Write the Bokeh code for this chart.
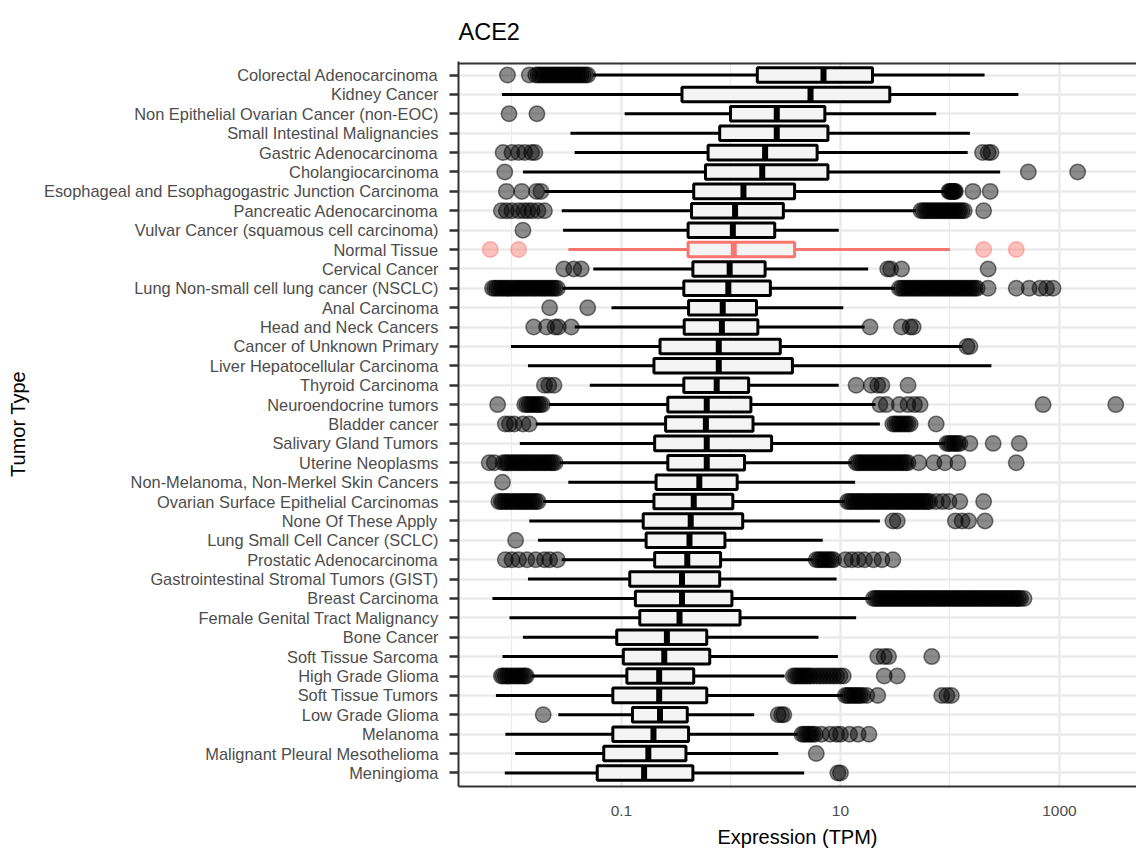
from bokeh.plotting import figure
from bokeh.models import ColumnDataSource, FactorRange, Range1d, FixedTicker, Span
from bokeh.transform import dodge
from bokeh.embed import file_html
from bokeh.resources import INLINE

title_text = "ACE2"
x_title = "Expression (TPM)"
y_title = "Tumor Type"

categories = [
    "Colorectal Adenocarcinoma",
    "Kidney Cancer",
    "Non Epithelial Ovarian Cancer (non-EOC)",
    "Small Intestinal Malignancies",
    "Gastric Adenocarcinoma",
    "Cholangiocarcinoma",
    "Esophageal and Esophagogastric Junction Carcinoma",
    "Pancreatic Adenocarcinoma",
    "Vulvar Cancer (squamous cell carcinoma)",
    "Normal Tissue",
    "Cervical Cancer",
    "Lung Non-small cell lung cancer (NSCLC)",
    "Anal Carcinoma",
    "Head and Neck Cancers",
    "Cancer of Unknown Primary",
    "Liver Hepatocellular Carcinoma",
    "Thyroid Carcinoma",
    "Neuroendocrine tumors",
    "Bladder cancer",
    "Salivary Gland Tumors",
    "Uterine Neoplasms",
    "Non-Melanoma, Non-Merkel Skin Cancers",
    "Ovarian Surface Epithelial Carcinomas",
    "None Of These Apply",
    "Lung Small Cell Cancer (SCLC)",
    "Prostatic Adenocarcinoma",
    "Gastrointestinal Stromal Tumors (GIST)",
    "Breast Carcinoma",
    "Female Genital Tract Malignancy",
    "Bone Cancer",
    "Soft Tissue Sarcoma",
    "High Grade Glioma",
    "Soft Tissue Tumors",
    "Low Grade Glioma",
    "Melanoma",
    "Malignant Pleural Mesothelioma",
    "Meningioma",
]

lower = [0.055, 0.0081, 0.107, 0.0342, 0.0374, 0.0126, 0.0198, 0.0285, 0.0293, 0.0327,
         0.0553, 0.029, 0.0811, 0.0374, 0.0098, 0.014, 0.0514, 0.0217, 0.0165, 0.0118,
         0.0272, 0.0327, 0.0194, 0.0144, 0.0173, 0.0285, 0.014, 0.00664, 0.0095, 0.0126,
         0.0082, 0.0151, 0.00714, 0.0265, 0.0087, 0.0107, 0.0086]
q1 = [1.74, 0.357, 0.99, 0.789, 0.618, 0.585, 0.457, 0.436, 0.406, 0.406,
      0.449, 0.371, 0.41, 0.374, 0.225, 0.198, 0.371, 0.265, 0.253, 0.201,
      0.265, 0.207, 0.198, 0.158, 0.168, 0.201, 0.119, 0.134, 0.147, 0.0905,
      0.104, 0.112, 0.0834, 0.126, 0.0834, 0.0689, 0.0601]
median = [7.0, 5.33, 2.62, 2.62, 2.05, 1.93, 1.30, 1.09, 1.04, 1.06,
          0.973, 0.946, 0.841, 0.826, 0.774, 0.774, 0.741, 0.601, 0.59, 0.601,
          0.601, 0.514, 0.457, 0.429, 0.418, 0.399, 0.357, 0.357, 0.339, 0.26,
          0.246, 0.221, 0.221, 0.225, 0.196, 0.176, 0.161]
q3 = [19.6, 28.2, 7.2, 7.68, 6.12, 7.68, 3.81, 3.01, 2.51, 3.81,
      2.05, 2.29, 1.71, 1.76, 2.82, 3.64, 1.45, 1.52, 1.59, 2.35,
      1.33, 1.14, 1.04, 1.28, 0.881, 0.804, 0.789, 1.02, 1.21, 0.601,
      0.64, 0.457, 0.601, 0.399, 0.41, 0.388, 0.449]
upper = [207, 421, 74.8, 152, 145, 287, 93.8, 48.7, 9.64, 100,
         17.9, 31.5, 10.6, 16.6, 129, 239, 9.64, 20.9, 22.9, 89.7,
         12.7, 13.6, 10.9, 22.9, 6.89, 5.58, 9.21, 19.1, 13.9, 6.29,
         9.47, 3.09, 10.6, 1.63, 4.06, 2.7, 4.66]

outliers = [
    # Colorectal Adenocarcinoma
    [0.0091, 0.0144, 0.0165, 0.0173, 0.0181, 0.019, 0.0198, 0.0207, 0.0217, 0.0227,
     0.0237, 0.0248, 0.026, 0.0272, 0.0285, 0.0298, 0.0312, 0.0327, 0.0342, 0.0358,
     0.0374, 0.0392, 0.041, 0.0429, 0.0449, 0.047, 0.0492],
    # Kidney Cancer
    [],
    # Non Epithelial Ovarian
    [0.0094, 0.0169],
    # Small Intestinal
    [],
    # Gastric
    [0.0083, 0.01, 0.0115, 0.0131, 0.0151, 0.0162, 198, 223, 237],
    # Cholangiocarcinoma
    [0.0086, 519, 1466],
    # Esophageal
    [0.0089, 0.0123, 0.0168, 0.0184, 98, 100, 103, 105, 108, 110, 112, 162, 233],
    # Pancreatic
    [0.008, 0.0089, 0.01, 0.0115, 0.0128, 0.014, 0.0153, 0.0173, 0.0198,
     54.3, 56.9, 59.6, 62.3, 65.2, 68.2, 71.4, 74.8, 78.2, 81.9, 85.7, 89.7, 93.8, 98,
     103, 108, 112, 118, 123, 129, 135, 203],
    # Vulvar
    [0.0126],
    # Normal Tissue
    [0.00634, 0.0115, 203, 403],
    # Cervical
    [0.0298, 0.0367, 0.0429, 27, 28.7, 36.1, 223],
    # Lung NSCLC
    [0.00664, 0.00695, 0.00727, 0.0076, 0.008, 0.0083, 0.0087, 0.0091, 0.0095, 0.01,
     0.0105, 0.011, 0.0115, 0.012, 0.0126, 0.0131, 0.0137, 0.0144, 0.0151, 0.0158,
     0.0165, 0.0173, 0.0181, 0.019, 0.0198, 0.0207, 0.0217, 0.0227, 0.0237, 0.0248, 0.026,
     34.5, 36.1, 37.8, 39.5, 41.4, 43.3, 45.3, 47.4, 49.6, 51.9, 54.3, 56.9, 59.6, 62.3,
     65.2, 68.2, 71.4, 74.8, 78.2, 81.9, 85.7, 89.7, 93.8, 98, 103, 108, 112, 118, 123,
     129, 135, 141, 148, 155, 162, 169, 177, 223, 403, 529, 664, 761, 873],
    # Anal
    [0.0221, 0.0492],
    # Head and Neck
    [0.0158, 0.0207, 0.0248, 0.0265, 0.0348, 18.6, 36.1, 43.3, 46.1],
    # Cancer of Unknown Primary
    [143, 152],
    # Liver
    [],
    # Thyroid
    [0.0198, 0.0217, 0.0242, 13.9, 19.1, 21.9, 23.9, 41.4],
    # Neuroendocrine
    [0.0074, 0.0131, 0.0137, 0.0144, 0.0151, 0.0158, 0.0165, 0.0173, 0.0181, 0.0189,
     22.9, 26.2, 34.5, 41.4, 47.4, 53.4, 708, 3266],
    # Bladder
    [0.0087, 0.0095, 0.0105, 0.0126, 0.0144,
     30.1, 31.5, 33, 34.5, 36.1, 37.8, 39.5, 41.4, 43.3, 74.8],
    # Salivary
    [93.8, 98, 103, 108, 112, 118, 123, 152, 248, 429],
    # Uterine
    [0.0062, 0.0069, 0.0083, 0.0087, 0.0091, 0.0095, 0.01, 0.0105, 0.011, 0.0115, 0.012,
     0.0126, 0.0131, 0.0137, 0.0144, 0.0151, 0.0158, 0.0165, 0.0173, 0.0181, 0.019,
     0.0198, 0.0207, 0.0217, 0.0227, 0.0237, 0.0248,
     13.9, 14.5, 15.2, 15.9, 16.6, 17.4, 18.2, 19.1, 20, 20.9, 21.9, 22.9, 23.9, 25.1,
     26.2, 27.5, 28.7, 30.1, 31.5, 33, 34.5, 36.1, 37.8, 39.5, 41.4,
     51.9, 71.4, 89.7, 118, 403],
    # Non-Melanoma
    [0.0082],
    # Ovarian Surface
    [0.0076, 0.008, 0.0083, 0.0087, 0.0091, 0.0095, 0.01, 0.0105, 0.011, 0.0115, 0.012,
     0.0126, 0.0131, 0.0137, 0.0144, 0.0151, 0.0158, 0.0165, 0.0173,
     11.6, 12.1, 12.7, 13.3, 13.9, 14.5, 15.2, 15.9, 16.6, 17.4, 18.2, 19.1, 20, 20.9,
     21.9, 22.9, 23.9, 25.1, 26.2, 27.5, 28.7, 30.1, 31.5, 33, 34.5, 36.1, 37.8, 39.5,
     41.4, 43.3, 45.3, 47.4, 49.6, 51.9, 54.3, 56.9, 59.6, 62.3, 65.2,
     74.8, 85.7, 98, 123, 203],
    # None Of These Apply
    [30.1, 33, 112, 129, 148, 209],
    # Lung SCLC
    [0.0108],
    # Prostatic
    [0.0087, 0.01, 0.0115, 0.0137, 0.0165, 0.0198, 0.0221, 0.026,
     6.01, 6.3, 6.58, 6.9, 7.2, 7.55, 7.89, 8.26, 8.65,
     11.1, 12.7, 14.5, 16.6, 20, 23.9, 30.1],
    # GIST
    [],
    # Breast
    [20, 20.9, 21.9, 22.9, 23.9, 25.1, 26.2, 27.5, 28.7, 30.1, 31.5, 33, 34.5, 36.1,
     37.8, 39.5, 41.4, 43.3, 45.3, 47.4, 49.6, 51.9, 54.3, 56.9, 59.6, 62.3, 65.2, 68.2,
     71.4, 74.8, 78.2, 81.9, 85.7, 89.7, 93.8, 98, 103, 108, 112, 118, 123, 129, 135,
     141, 148, 155, 162, 169, 177, 185, 194, 203, 213, 223, 233, 244, 255, 267, 280,
     293, 306, 321, 336, 352, 368, 385, 403, 422, 441, 474],
    # Female Genital
    [],
    # Bone
    [],
    # Soft Tissue Sarcoma
    [21.9, 25.1, 27.5, 68.2],
    # High Grade Glioma
    [0.008, 0.0083, 0.0087, 0.0091, 0.0095, 0.01, 0.0105, 0.011, 0.0115, 0.012, 0.0126,
     0.0131, 0.0135,
     3.71, 3.88, 4.06, 4.25, 4.45, 4.65, 4.87, 5.1, 5.33, 5.7, 6.12, 6.55, 7.0, 7.5,
     8.04, 8.6, 9.21, 9.9, 10.6, 25.1, 33],
    # Soft Tissue Tumors
    [11.1, 11.6, 12.1, 12.7, 13.3, 13.9, 14.5, 15.2, 15.9, 17.4, 21.9, 84.1, 93.8, 103],
    # Low Grade Glioma
    [0.0193, 2.7, 2.9, 3.04],
    # Melanoma
    [4.45, 4.65, 4.87, 5.1, 5.33, 5.58, 5.85, 6.7, 8.04, 9.21, 10, 12.1, 14.5, 18.2],
    # Malignant Pleural Mesothelioma
    [6.01],
    # Meningioma
    [9.47, 10],
]

x_ticks = [0.1, 10, 1000]
x_minor_ticks = [0.01, 1, 100]
x_tick_labels = ["0.1", "10", "1000"]

HIGHLIGHT = "Normal Tissue"
FONT = "Liberation Sans"
colors = ["#F8766D" if c == HIGHLIGHT else "#000000" for c in categories]

src = ColumnDataSource(dict(cat=categories, lower=lower, q1=q1, median=median,
                            q3=q3, upper=upper, color=colors))

ox, oy, oc = [], [], []
for c, col, vals in zip(categories, colors, outliers):
    for v in vals:
        ox.append(v)
        oy.append(c)
        oc.append(col)
osrc = ColumnDataSource(dict(x=ox, y=oy, color=oc))

y_range = FactorRange(factors=list(reversed(categories)), range_padding=0.2,
                      range_padding_units="absolute")

p = figure(width=1136, height=850, x_axis_type="log", x_range=Range1d(0.00325, 5050),
           y_range=y_range, output_backend="svg", toolbar_location=None,
           min_border_left=458, min_border_right=0, min_border_top=61,
           min_border_bottom=64)

p.background_fill_color = "white"
p.border_fill_color = "white"
p.outline_line_color = None

# title
p.title.text = title_text
p.title.text_font = FONT
p.title.text_font_size = "23.5px"
p.title.text_font_style = "normal"
p.title.text_color = "#000000"
p.title.align = "left"
p.title.vertical_align = "top"
p.title.offset = 0
p.title.standoff = 30

# x axis
ticker = FixedTicker(ticks=x_ticks, minor_ticks=x_minor_ticks)
p.xaxis.ticker = ticker
p.xaxis.major_label_overrides = {t: l for t, l in zip(x_ticks, x_tick_labels)}
p.xaxis.major_tick_line_color = None
p.xaxis.minor_tick_line_color = None
p.xaxis.major_tick_out = 0
p.xaxis.major_tick_in = 0
p.xaxis.axis_line_color = "#333333"
p.xaxis.axis_line_width = 2
p.xaxis.major_label_text_font = FONT
p.xaxis.major_label_text_font_size = "15.5px"
p.xaxis.major_label_text_color = "#4D4D4D"
p.xaxis.major_label_standoff = 15
p.xaxis.axis_label = x_title
p.xaxis.axis_label_text_font = FONT
p.xaxis.axis_label_text_font_size = "20px"
p.xaxis.axis_label_text_font_style = "normal"
p.xaxis.axis_label_text_color = "#000000"
p.xaxis.axis_label_standoff = 7

# y axis
p.yaxis.major_tick_out = 9
p.yaxis.major_tick_in = 0
p.yaxis.major_tick_line_width = 2.5
p.yaxis.major_tick_line_color = "#333333"
p.yaxis.axis_line_color = "#333333"
p.yaxis.axis_line_width = 2
p.yaxis.major_label_text_font = FONT
p.yaxis.major_label_text_font_size = "16.4px"
p.yaxis.major_label_text_color = "#4D4D4D"
p.yaxis.major_label_standoff = 11
p.yaxis.axis_label = y_title
p.yaxis.axis_label_text_font = FONT
p.yaxis.axis_label_text_font_size = "20px"
p.yaxis.axis_label_text_font_style = "normal"
p.yaxis.axis_label_text_color = "#000000"
p.yaxis.axis_label_standoff = 12

# grids
p.xgrid.ticker = ticker
p.xgrid.grid_line_color = "#EBEBEB"
p.xgrid.grid_line_width = 2.5
p.xgrid.minor_grid_line_color = "#EBEBEB"
p.xgrid.minor_grid_line_width = 1.2
p.ygrid.grid_line_color = "#EBEBEB"
p.ygrid.grid_line_width = 2.5

# top border
p.add_layout(Span(location=len(categories) + 0.1, dimension="width",
                  line_color="#333333", line_width=2))

# outliers
p.scatter(x="x", y="y", source=osrc, size=15.5, fill_color="color", fill_alpha=0.45,
          line_color="color", line_alpha=0.5, line_width=1.5)

# whiskers
p.segment(x0="lower", y0="cat", x1="q1", y1="cat", source=src,
          line_color="color", line_width=3)
p.segment(x0="q3", y0="cat", x1="upper", y1="cat", source=src,
          line_color="color", line_width=3)

# boxes
p.hbar(y="cat", left="q1", right="q3", height=0.75, source=src,
       fill_color="#F4F4F4", line_color="color", line_width=3)

# medians
p.segment(x0="median", y0=dodge("cat", -0.375, range=y_range),
          x1="median", y1=dodge("cat", 0.375, range=y_range), source=src,
          line_color="color", line_width=6)

open("out.html", "w").write(file_html(p, INLINE))
